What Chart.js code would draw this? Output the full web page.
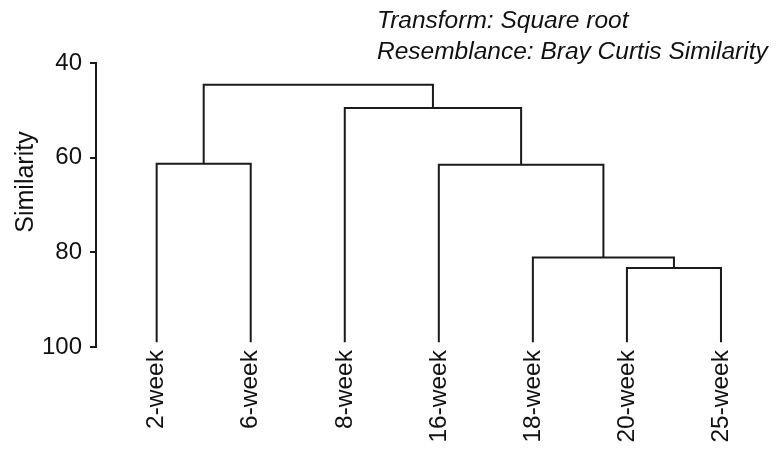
<!DOCTYPE html>
<html>
<head>
<meta charset="utf-8">
<script src="https://cdn.jsdelivr.net/npm/chart.js@4.4.1/dist/chart.umd.min.js"></script>
<style>
  html, body { margin: 0; padding: 0; background: #ffffff; }
  #c { display: block; }
</style>
</head>
<body>
<canvas id="c" width="776" height="451"></canvas>
<script>
// ---- data ----
const leaves = ['2-week', '6-week', '8-week', '16-week', '18-week', '20-week', '25-week'];
const leafSimilarity = 99;                        // where leaf branches start
// each merge joins node A and node B (leaves are 0..6, merges become 7, 8, ...)
const mergeA = [5, 4, 3, 2, 0, 11];
const mergeB = [6, 7, 8, 9, 1, 10];
const mergeSimilarity = [83.3, 81.1, 61.5, 49.5, 61.3, 44.6];
const yTickValues = [40, 60, 80, 100];
const yTitle = 'Similarity';
const noteLines = ['Transform: Square root', 'Resemblance: Bray Curtis Similarity'];

// ---- build branch polylines from the merge table ----
const nodeX = leaves.map((_, i) => i);
const nodeY = leaves.map(() => leafSimilarity);
const datasets = [];
mergeA.forEach((a, k) => {
  const b = mergeB[k];
  const h = mergeSimilarity[k];
  datasets.push({
    data: [
      { x: nodeX[a], y: nodeY[a] },
      { x: nodeX[a], y: h },
      { x: nodeX[b], y: h },
      { x: nodeX[b], y: nodeY[b] }
    ],
    showLine: true,
    borderColor: '#1a1a1a',
    borderWidth: 2,
    borderJoinStyle: 'miter',
    pointRadius: 0,
    tension: 0,
    fill: false,
    clip: false
  });
  nodeX.push((nodeX[a] + nodeX[b]) / 2);
  nodeY.push(h);
});

const FONT = "'Liberation Sans', Arial, Helvetica, sans-serif";

const textPlugin = {
  id: 'texts',
  afterDraw(chart) {
    const ctx = chart.ctx;
    ctx.save();
    ctx.fillStyle = '#111111';
    // y-axis title
    ctx.font = '25px ' + FONT;
    ctx.translate(33, 182);
    ctx.rotate(-Math.PI / 2);
    ctx.textAlign = 'center';
    ctx.textBaseline = 'alphabetic';
    ctx.fillText(yTitle, 0, 0);
    ctx.restore();

    ctx.save();
    ctx.fillStyle = '#111111';
    ctx.font = 'italic 24.5px ' + FONT;
    ctx.textAlign = 'left';
    ctx.textBaseline = 'alphabetic';
    ctx.fillText(noteLines[0], 377, 28);
    ctx.fillText(noteLines[1], 377, 59);
    ctx.restore();
  }
};

new Chart(document.getElementById('c'), {
  type: 'scatter',
  data: { datasets },
  plugins: [textPlugin],
  options: {
    responsive: false,
    animation: false,
    devicePixelRatio: 1,
    layout: { padding: { top: 63, right: 8, left: 0, bottom: 0 } },
    plugins: { legend: { display: false }, tooltip: { enabled: false } },
    scales: {
      x: {
        type: 'linear',
        min: -0.645,
        max: 6.5,
        afterBuildTicks: s => { s.ticks = leaves.map((_, i) => ({ value: i })); },
        afterFit: s => { s.height = 104; },
        ticks: {
          callback: v => leaves[v],
          autoSkip: false,
          minRotation: 90,
          maxRotation: 90,
          padding: 3,
          color: '#111111',
          font: { family: FONT, size: 24.5 }
        },
        grid: { display: false, drawTicks: false },
        border: { display: false }
      },
      y: {
        type: 'linear',
        reverse: true,
        min: 40,
        max: 100,
        afterBuildTicks: s => { s.ticks = yTickValues.map(v => ({ value: v })); },
        afterFit: s => { s.width = 96; },
        ticks: {
          padding: 8,
          color: '#111111',
          font: { family: FONT, size: 24 }
        },
        grid: { drawOnChartArea: false, drawTicks: true, tickLength: 6, color: '#1a1a1a', lineWidth: 2 },
        border: { display: true, color: '#1a1a1a', width: 2 }
      }
    }
  }
});
</script>
</body>
</html>
